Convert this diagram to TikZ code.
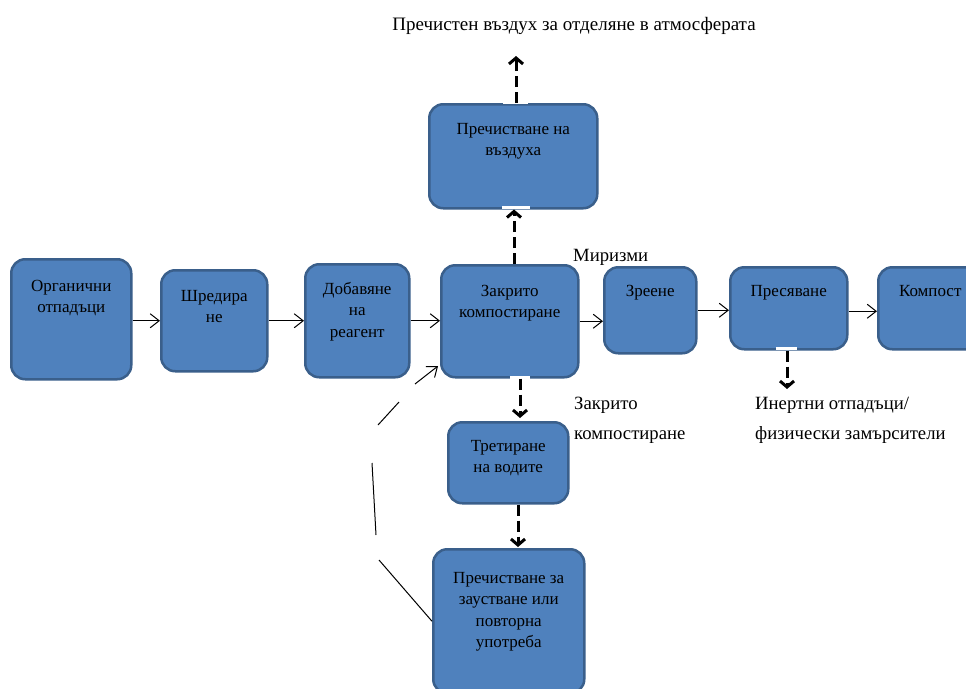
\documentclass[tikz,border=0pt]{standalone}
\usepackage{fontspec}
\setmainfont{Liberation Serif}
\usetikzlibrary{arrows.meta,calc}
\definecolor{boxfill}{HTML}{4F81BD}
\definecolor{boxline}{HTML}{3A5F8B}
\newcommand{\bxt}[4]{\parbox[c][#2][t]{#1}{\centering\vspace*{#3}\rule{0pt}{14pt}\ignorespaces#4\par}}
\begin{document}
\begin{tikzpicture}[x=1pt,y=-1pt,
  blk/.style={draw=boxline, line width=2.5pt, fill=boxfill, rounded corners=14pt,
    inner sep=0pt, anchor=north west, font=\fontsize{17}{21.5}\selectfont},
  thinarr/.style={-{Straight Barb[length=9pt,width=14pt]}, line width=1pt},
  dasharr/.style={-{Straight Barb[length=6pt,width=14pt]}, line width=3pt, dash pattern=on 11pt off 5pt},
  lbl/.style={font=\fontsize{18.7}{30}\selectfont, inner sep=0pt, align=left},
  gap/.style={fill=white}]
\useasboundingbox (0,0) rectangle (966,688);
\fill[white] (0,0) rectangle (966,688);

% boxes
\node[blk] (b1) at (10,258) {\bxt{120pt}{120pt}{18pt}{Органични\\отпадъци}};
\node[blk] (b2) at (160,269) {\bxt{106pt}{101pt}{17pt}{Шредира\\не}};
\node[blk] (b3) at (304,263) {\bxt{104pt}{113pt}{16pt}{Добавяне\\на\\реагент}};
\node[blk] (b4) at (440,264) {\bxt{137pt}{112pt}{17pt}{Закрито\\компостиране}};
\node[blk] (b5) at (603,266) {\bxt{92pt}{86pt}{15pt}{Зреене}};
\node[blk] (b6) at (729,266) {\bxt{117pt}{82pt}{15pt}{Пресяване}};
\node[blk] (b7) at (877,266) {\bxt{104pt}{82pt}{15pt}{Компост}};
\node[blk] (b8) at (428,103) {\bxt{168pt}{104pt}{16pt}{Пречистване на\\въздуха}};
\node[blk] (b9) at (447,421) {\bxt{120pt}{81pt}{15pt}{Третиране\\на водите}};
\node[blk] (b10) at (432,548) {\bxt{151pt}{144pt}{20pt}{Пречистване за\\заустване или\\повторна\\употреба}};

% white gaps in borders where dashed arrows meet
\fill[gap] (503,100.5) rectangle (528,104);
\fill[gap] (502,205.5) rectangle (530,209);
\fill[gap] (510,375.5) rectangle (530,379);
\fill[gap] (776,346.5) rectangle (797,350);

% labels
\node[lbl, anchor=base, font=\fontsize{19}{24}\selectfont] (atm) at (574,30) {Пречистен въздух за отделяне в атмосферата};
\node[lbl, anchor=base west] (odor) at (573,261) {Миризми};
\node[lbl, anchor=base west] (closed) at (574,439) {Закрито\\компостиране};
\node[lbl, anchor=base west] (inert) at (755,439) {Инертни отпадъци/\\физически замърсители};

% main flow
\draw[thinarr] (b1.east |- b2.west) -- (b2.west);
\draw[thinarr] (b2.east) -- (b2.east -| b3.west);
\draw[thinarr] (b3.east) -- (b3.east -| b4.west);
\draw[thinarr] (b4.east) -- (b4.east -| b5.west);
\draw[thinarr] (b5.east) -- (b5.east -| b6.west);
\draw[thinarr] ($(b6.east)+(0,3)$) -- ($(b6.east -| b7.west)+(0,3)$);

% dashed arrows
\coordinate (u1) at (514,300);
\draw[dasharr] (b4.north -| u1) -- (b8.south -| u1);
\coordinate (air) at (516,56);
\draw[dasharr] (b8.north -| air) -- (air);
\coordinate (w1) at (520,418);
\draw[dasharr] (b4.south -| w1) -- (w1);
\coordinate (w2) at (518,547);
\draw[dasharr] (b9.south -| w2) -- (w2);
\coordinate (iw) at (787,389);
\draw[dasharr] (b6.south -| iw) -- (iw);

% return path
\coordinate (r1) at (379,560);
\coordinate (r2) at (376,535);
\coordinate (r3) at (372,463);
\coordinate (r4) at (378,425);
\coordinate (r5) at (399,402);
\coordinate (r6) at (415,384);
\coordinate (r7) at (438,366);
\draw[thinarr] (b10.west) -- (r1) (r2) -- (r3) (r4) -- (r5) (r6) -- (r7);
\end{tikzpicture}
\end{document}
